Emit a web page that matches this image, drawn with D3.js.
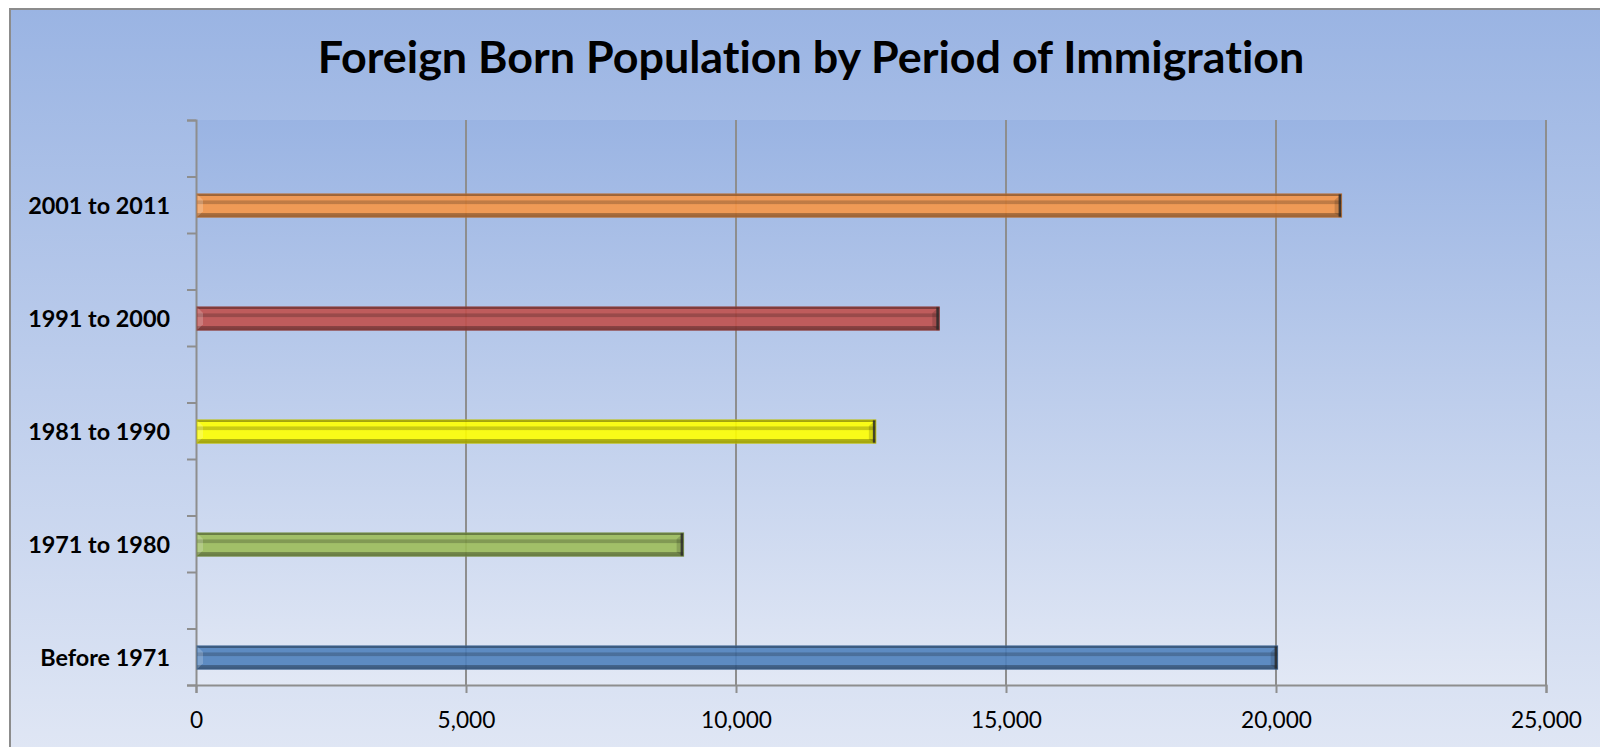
<!DOCTYPE html>
<html>
<head>
<meta charset="utf-8">
<script src="https://cdn.jsdelivr.net/npm/d3@7"></script>
<style>
  body { margin: 0; background: #fff; }
  svg { display: block; }
  text { font-variant-ligatures: none; font-feature-settings: "liga" 0, "clig" 0; }
</style>
</head>
<body>
<div id="chart"></div>
<script>
// values
let titleText = 'Foreign Born Population by Period of Immigration';
let periods = ['2001 to 2011', '1991 to 2000', '1981 to 1990', '1971 to 1980', 'Before 1971'];
let population = [21215, 13765, 12590, 9030, 20030];
let barColors = ['#f79646', '#c0504d', '#ffff00', '#9bbb59', '#4f81bd'];
let xTicks = [0, 5000, 10000, 15000, 20000, 25000];

let width = 1600, height = 747;
let margin = {top: 120, left: 196, right: 54, bottom: 62};

let svg = d3.select('#chart').append('svg').attr('width', width).attr('height', height);
let defs = svg.append('defs');

// background gradients
let bg = defs.append('linearGradient').attr('id', 'bg').attr('x1', 0).attr('y1', 0).attr('x2', 0).attr('y2', 1);
bg.append('stop').attr('offset', 0).attr('stop-color', '#9ab4e3');
bg.append('stop').attr('offset', 1).attr('stop-color', '#e2e8f5');

let shade = defs.append('linearGradient').attr('id', 'shade').attr('x1', 0).attr('y1', 0).attr('x2', 0).attr('y2', 1);
[[0, 0.35], [0.07, 0.35], [0.08, 0], [0.26, 0], [0.3, 0.2], [0.42, 0.2], [0.46, 0], [0.8, 0], [0.84, 0.28], [1, 0.38]]
  .forEach(s => shade.append('stop').attr('offset', s[0]).attr('stop-color', '#000').attr('stop-opacity', s[1]));

svg.append('rect')
  .attr('x', 10).attr('y', 9).attr('width', width + 20).attr('height', height + 20)
  .attr('fill', 'url(#bg)').attr('stroke', '#8c8c8c').attr('stroke-width', 2);

let plotW = width - margin.left - margin.right;
let plotH = height - margin.top - margin.bottom;

svg.append('rect')
  .attr('x', margin.left).attr('y', margin.top).attr('width', plotW).attr('height', plotH)
  .attr('fill', 'url(#bg)');

// pick a font size so a string has the wanted width
function fitSize(str, target, weight, family) {
  let t = svg.append('text').attr('font-family', family).attr('font-weight', weight)
    .attr('font-size', 40).text(str);
  let w = t.node().getComputedTextLength();
  t.remove();
  return 40 * target / w;
}

let fam = 'Lato, "Open Sans", sans-serif';

svg.append('text')
  .attr('x', 811).attr('y', 73)
  .attr('text-anchor', 'middle')
  .attr('font-family', fam).attr('font-weight', 'bold')
  .attr('font-size', fitSize(titleText, 987, 'bold', fam))
  .attr('fill', '#000')
  .text(titleText);

let x = d3.scaleLinear().domain([0, 25000]).range([margin.left, margin.left + plotW]);
let y = d3.scaleBand().domain(periods).range([margin.top, margin.top + plotH]).paddingInner(0).paddingOuter(0);
let half = d3.scaleLinear().domain([0, periods.length * 2]).range([margin.top, margin.top + plotH]);

let g = svg.append('g');

// vertical gridlines
g.selectAll('line.grid')
  .data(xTicks.filter(d => d > 0)).enter().append('line')
  .attr('class', 'grid')
  .attr('x1', d => x(d)).attr('x2', d => x(d))
  .attr('y1', margin.top).attr('y2', margin.top + plotH)
  .attr('stroke', '#8e8e8e').attr('stroke-width', 2);

// x axis
let xAxis = d3.axisBottom(x).tickValues(xTicks).tickSize(8).tickFormat(d3.format(','));
let xg = g.append('g')
  .attr('transform', 'translate(0,' + (margin.top + plotH) + ')')
  .call(xAxis);
xg.select('.domain').attr('stroke', '#8e8e8e').attr('stroke-width', 2);
xg.selectAll('.tick line').attr('stroke', '#8e8e8e').attr('stroke-width', 2);
xg.selectAll('.tick text')
  .attr('font-family', fam).attr('font-weight', 'normal')
  .attr('font-size', fitSize('25,000', 71, 'normal', fam))
  .attr('fill', '#000').attr('dy', null).attr('y', 43);

// y axis (ticks every half category)
let yAxis = d3.axisLeft(half).tickValues(d3.range(periods.length * 2 + 1)).tickSize(9).tickFormat('');
let yg = g.append('g').attr('transform', 'translate(' + margin.left + ',0)').call(yAxis);
yg.select('.domain').attr('stroke', '#8e8e8e').attr('stroke-width', 2);
yg.selectAll('.tick line').attr('stroke', '#8e8e8e').attr('stroke-width', 2);

let bw = y.bandwidth();
let barH = bw * 0.206;
let barY = d => y(d) + bw * 0.757 - barH / 2;

let labelSize = fitSize('1981 to 1990', 142, 'bold', fam);
g.selectAll('text.cat')
  .data(periods).enter().append('text')
  .attr('class', 'cat')
  .attr('x', 170)
  .attr('y', d => barY(d) + barH / 2 + 8)
  .attr('text-anchor', 'end')
  .attr('font-family', fam).attr('font-weight', 'bold')
  .attr('font-size', labelSize)
  .attr('fill', '#000')
  .text(d => d);

// bars with a bevel look
let bars = g.selectAll('g.bar')
  .data(periods.map((p, i) => ({p: p, v: population[i], c: barColors[i]})))
  .enter().append('g').attr('class', 'bar');

bars.append('rect')
  .attr('x', x(0) + 1).attr('y', d => barY(d.p))
  .attr('width', d => x(d.v) - x(0) - 1).attr('height', barH)
  .attr('fill', d => d.c).attr('fill-opacity', 0.9);

bars.append('rect')
  .attr('x', x(0) + 1).attr('y', d => barY(d.p))
  .attr('width', d => x(d.v) - x(0) - 1).attr('height', barH)
  .attr('fill', 'url(#shade)');

// left end highlight
bars.append('path')
  .attr('d', d => {
    let x0 = x(0) + 1, y0 = barY(d.p);
    return 'M' + x0 + ',' + y0 + 'L' + (x0 + 6) + ',' + (y0 + 6) + 'L' + (x0 + 6) + ',' + (y0 + barH - 6) +
      'L' + x0 + ',' + (y0 + barH) + 'Z';
  })
  .attr('fill', '#fff').attr('fill-opacity', 0.2);

// right end dark bevel
bars.append('path')
  .attr('d', d => {
    let x1 = x(d.v), y0 = barY(d.p);
    return 'M' + x1 + ',' + y0 + 'L' + (x1 - 7) + ',' + (y0 + 6) + 'L' + (x1 - 7) + ',' + (y0 + barH - 4) +
      'L' + x1 + ',' + (y0 + barH) + 'Z';
  })
  .attr('fill', '#000').attr('fill-opacity', 0.15);

bars.append('rect')
  .attr('x', d => x(d.v) - 3).attr('y', d => barY(d.p))
  .attr('width', 3).attr('height', barH)
  .attr('fill', '#2a2a2a').attr('fill-opacity', 0.85);

bars.append('rect')
  .attr('x', x(0) + 1).attr('y', d => barY(d.p))
  .attr('width', d => x(d.v) - x(0) - 1).attr('height', barH)
  .attr('fill', 'none')
  .attr('stroke', d => d3.color(d.c).darker(0.8)).attr('stroke-width', 1).attr('stroke-opacity', 0.8);
</script>
</body>
</html>
